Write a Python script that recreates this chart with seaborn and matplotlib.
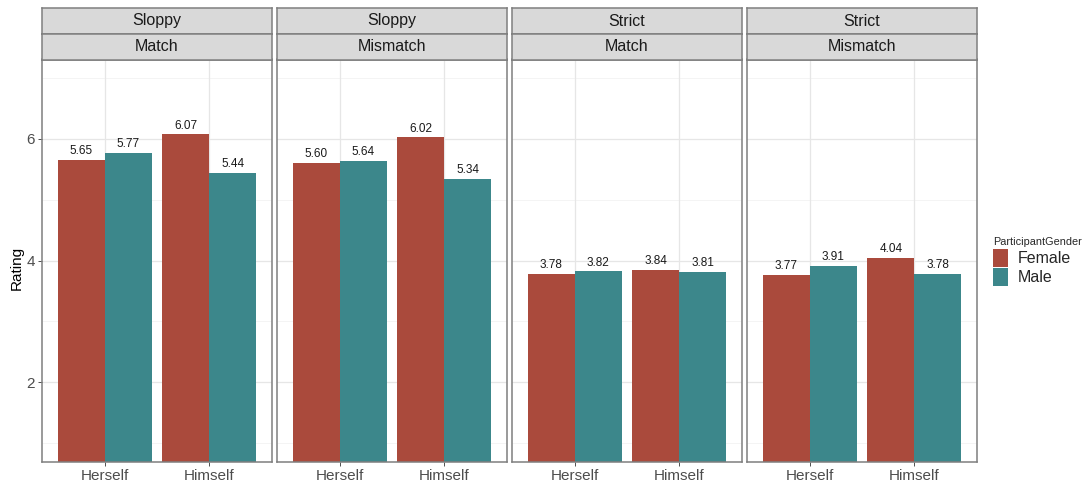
import matplotlib
matplotlib.use("Agg")
import matplotlib.pyplot as plt
import seaborn as sns
import pandas as pd
from matplotlib.patches import Patch

# Facet labels (top strip / second strip)
condition = ["Sloppy", "Sloppy", "Strict", "Strict"]
congruence = ["Match", "Mismatch", "Match", "Mismatch"]
pronouns = ["Herself", "Himself"]
genders = ["Female", "Male"]

# Mean ratings per facet, ordered as pronouns
female_ratings = [[5.65, 6.07], [5.60, 6.02], [3.78, 3.84], [3.77, 4.04]]
male_ratings = [[5.77, 5.44], [5.64, 5.34], [3.82, 3.81], [3.91, 3.78]]

colors = ["#AA4A3C", "#3C878B"]

rows = []
for i in range(4):
    for j, p in enumerate(pronouns):
        rows.append((i, p, "Female", female_ratings[i][j]))
        rows.append((i, p, "Male", male_ratings[i][j]))
df = pd.DataFrame(rows, columns=["facet", "Pronoun", "ParticipantGender", "Rating"])

sns.set_theme(style="white")
plt.rcParams["font.family"] = ["Liberation Sans", "DejaVu Sans"]

W, H = 1089, 484
fig = plt.figure(figsize=(W / 100, H / 100), dpi=100)


def box(left, top, width, height):
    return [left / W, 1 - (top + height) / H, width / W, height / H]


panel_left = [42, 277, 512, 747]
panel_w = 230
panel_top, panel_bottom = 59.5, 461.5
edge = "#7F7F7F"

for i in range(4):
    ax = fig.add_axes(box(panel_left[i], panel_top, panel_w, panel_bottom - panel_top))
    sub = df[df["facet"] == i]
    for y in [1, 3, 5, 7]:
        ax.axhline(y, color="#F0F0F0", lw=0.5, zorder=0)
    for y in [2, 4, 6]:
        ax.axhline(y, color="#E6E6E6", lw=0.9, zorder=0)
    for x in [0, 1]:
        ax.axvline(x, color="#E6E6E6", lw=0.9, zorder=0)
    sns.barplot(data=sub, x="Pronoun", y="Rating", hue="ParticipantGender",
                order=pronouns, hue_order=genders, palette=colors,
                saturation=1, width=0.9, ax=ax, legend=False, errorbar=None,
                linewidth=0, edgecolor="none", zorder=2)
    for cont in ax.containers:
        ax.bar_label(cont, fmt="%.2f", padding=2, fontsize=8.5, color="#1A1A1A")
    ax.set_xlim(-0.6, 1.6)
    ax.set_ylim(0.7, 7.3)
    ax.set_yticks([2, 4, 6])
    ax.set_xlabel("")
    ax.set_ylabel("")
    ax.tick_params(axis="x", length=3, width=0.6, color="#333333",
                   labelsize=11, labelcolor="#4D4D4D", pad=2.5, bottom=True)
    if i == 0:
        ax.tick_params(axis="y", length=3, width=0.6, color="#333333",
                       labelsize=11, labelcolor="#4D4D4D", pad=2, left=True)
    else:
        ax.tick_params(axis="y", left=False, labelleft=False)
    for s in ax.spines.values():
        s.set_color(edge)
        s.set_linewidth(1.1)
        s.set_visible(True)

    # strip headers
    for label, top, h in [(condition[i], 8, 26), (congruence[i], 34, 25.5)]:
        sax = fig.add_axes(box(panel_left[i], top, panel_w, h))
        sax.set_facecolor("#D9D9D9")
        sax.set_xticks([])
        sax.set_yticks([])
        for s in sax.spines.values():
            s.set_color(edge)
            s.set_linewidth(1.1)
        sax.text(0.5, 0.5, label, ha="center", va="center", fontsize=11.5,
                 color="#1A1A1A", transform=sax.transAxes)

fig.text(17 / W, 1 - 268 / H, "Rating", rotation=90, ha="center", va="center",
         fontsize=11, color="#000000")

handles = [Patch(facecolor=c, edgecolor="none") for c in colors]
leg = fig.legend(handles, genders, title="ParticipantGender",
                 loc="upper left", bbox_to_anchor=(990 / W, 1 - 234 / H),
                 frameon=False, fontsize=11.5, title_fontsize=7.8,
                 handlelength=0.95, handleheight=1.3, handletextpad=0.6,
                 labelspacing=0.12, borderpad=0.2, borderaxespad=0)
leg._legend_box.align = "left"

fig.savefig("out.png", dpi=100)
